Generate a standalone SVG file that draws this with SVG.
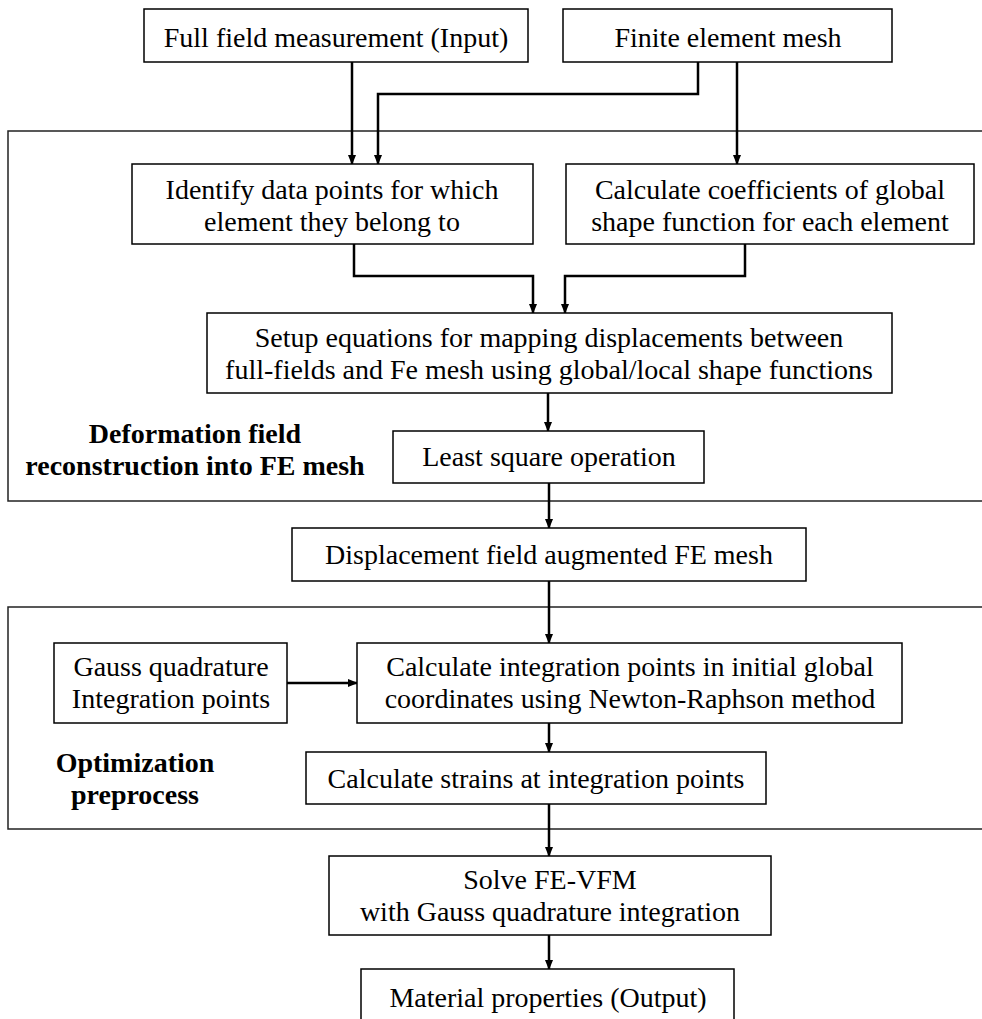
<svg xmlns="http://www.w3.org/2000/svg" width="982" height="1019" viewBox="0 0 982 1019">
<style>
.box{fill:#fff;stroke:#000;stroke-width:1.5}
.frame{fill:none;stroke:#222;stroke-width:1.5}
.t{font-family:"Liberation Serif","Times New Roman",serif;font-size:28px;fill:#000;text-anchor:middle}
.b{font-family:"Liberation Serif","Times New Roman",serif;font-size:28px;font-weight:bold;fill:#000;text-anchor:middle}
.c{fill:none;stroke:#000;stroke-width:2.5}
</style>
<defs>
<marker id="ah" markerWidth="10" markerHeight="10" refX="9" refY="5" orient="auto" markerUnits="userSpaceOnUse">
<path d="M0,1 L10,5 L0,9 Z" fill="#000"/>
</marker>
</defs>
<rect width="982" height="1019" fill="#fff"/>
<g id="frames">
<rect class="frame" x="8" y="131" width="1000" height="370"/>
<rect class="frame" x="8" y="607" width="1000" height="222"/>
</g>
<g id="connectors">
<path class="c" d="M352,62 V164" marker-end="url(#ah)"/>
<path class="c" d="M698,62 V94 H378 V164" marker-end="url(#ah)"/>
<path class="c" d="M737,62 V164" marker-end="url(#ah)"/>
<path class="c" d="M354,244 V276 H533 V313" marker-end="url(#ah)"/>
<path class="c" d="M745,244 V276 H565 V313" marker-end="url(#ah)"/>
<path class="c" d="M548,393 V431" marker-end="url(#ah)"/>
<path class="c" d="M549,483 V528" marker-end="url(#ah)"/>
<path class="c" d="M549,581 V643" marker-end="url(#ah)"/>
<path class="c" d="M287,683 H357" marker-end="url(#ah)"/>
<path class="c" d="M549,723 V752" marker-end="url(#ah)"/>
<path class="c" d="M549,804 V856" marker-end="url(#ah)"/>
<path class="c" d="M549,935 V969" marker-end="url(#ah)"/>
</g>
<g id="n1"><rect class="box" x="144" y="9" width="384" height="53"/><text class="t" x="336" y="47">Full field measurement (Input)</text></g>
<g id="n2"><rect class="box" x="563" y="9" width="329" height="53"/><text class="t" x="728" y="47">Finite element mesh</text></g>
<g id="n3"><rect class="box" x="132" y="164" width="401" height="80"/><text class="t" x="332" y="199">Identify data points for which</text><text class="t" x="332" y="231">element they belong to</text></g>
<g id="n4"><rect class="box" x="566" y="164" width="408" height="80"/><text class="t" x="770" y="199">Calculate coefficients of global</text><text class="t" x="770" y="231">shape function for each element</text></g>
<g id="n5"><rect class="box" x="207" y="313" width="685" height="80"/><text class="t" x="549" y="347">Setup equations for mapping displacements between</text><text class="t" x="549" y="379">full-fields and Fe mesh using global/local shape functions</text></g>
<g id="n6"><rect class="box" x="393" y="431" width="311" height="52"/><text class="t" x="549" y="466">Least square operation</text></g>
<g id="lbl1"><text class="b" x="195" y="443">Deformation field</text><text class="b" x="195" y="475">reconstruction into FE mesh</text></g>
<g id="n7"><rect class="box" x="292" y="528" width="514" height="53"/><text class="t" x="549" y="564">Displacement field augmented FE mesh</text></g>
<g id="n8"><rect class="box" x="54" y="643" width="233" height="80"/><text class="t" x="171" y="676">Gauss quadrature</text><text class="t" x="171" y="708">Integration points</text></g>
<g id="n9"><rect class="box" x="357" y="643" width="545" height="80"/><text class="t" x="630" y="676">Calculate integration points in initial global</text><text class="t" x="630" y="708">coordinates using Newton-Raphson method</text></g>
<g id="n10"><rect class="box" x="306" y="752" width="460" height="52"/><text class="t" x="536" y="788">Calculate strains at integration points</text></g>
<g id="lbl2"><text class="b" x="135" y="772">Optimization</text><text class="b" x="135" y="804">preprocess</text></g>
<g id="n11"><rect class="box" x="329" y="856" width="442" height="79"/><text class="t" x="550" y="889">Solve FE-VFM</text><text class="t" x="550" y="921">with Gauss quadrature integration</text></g>
<g id="n12"><rect class="box" x="361" y="969" width="373" height="70"/><text class="t" x="548" y="1007">Material properties (Output)</text></g>
</svg>
